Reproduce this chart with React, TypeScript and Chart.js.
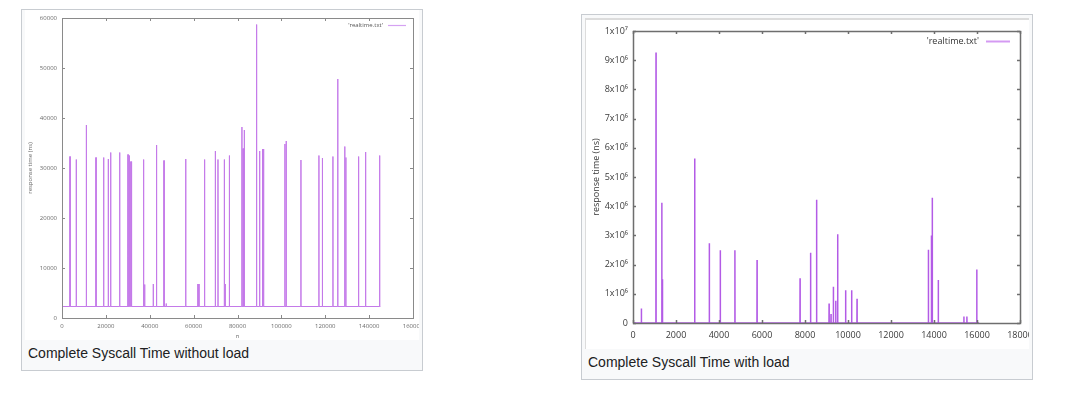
import { useEffect, useRef } from "react";
import { Chart, registerables } from "chart.js";

Chart.register(...registerables);

// ---------- Left chart: "Complete Syscall Time without load" ----------
const leftSpikeN = [
  3650, 6500, 11100, 15500, 19000, 21100, 22200, 26300, 30100, 30700, 31300, 31700,
  37200, 37700, 41600, 43100, 46500, 47500, 56400, 62000, 62500, 65000, 69900, 71100,
  74000, 74400, 76300, 82000, 82500, 82800, 83100, 88700, 90100, 91400, 91800, 92000,
  101600, 102200, 108900, 117100, 118700, 123500, 125700, 128900, 129400, 135200, 138400, 144800,
];
const leftSpikeValue = [
  32300, 31700, 38600, 32100, 32100, 31800, 33100, 33100, 32700, 32500, 31300, 31300,
  31700, 6700, 6800, 34600, 31500, 2900, 31800, 6800, 6800, 31700, 33400, 31700,
  31700, 6800, 32500, 38200, 33900, 33900, 37600, 58700, 33400, 33800, 33800, 2700,
  34800, 35400, 31600, 32500, 32000, 32300, 47800, 34300, 32100, 32300, 33200, 32500,
];
const leftBaseline = 2300;
const leftLastN = 145100;
const leftXTicks = [0, 20000, 40000, 60000, 80000, 100000, 120000, 140000, 160000];
const leftYTicks = [0, 10000, 20000, 30000, 40000, 50000, 60000];

// ---------- Right chart: "Complete Syscall Time with load" ----------
const rightSpikeN = [
  390, 1070, 1340, 1370, 2870, 3550, 4060, 4740, 5770, 7770, 8260, 8540, 9120, 9210,
  9320, 9430, 9520, 9890, 10170, 10420, 13740, 13880, 13920, 14200, 15390, 15530, 15990,
];
const rightSpikeValue = [
  500000, 9260000, 4120000, 1500000, 5630000, 2730000, 2490000, 2490000, 2160000,
  1530000, 2410000, 4220000, 670000, 310000, 1240000, 760000, 3040000, 1120000,
  1120000, 830000, 2510000, 3000000, 4290000, 1470000, 220000, 220000, 1830000,
];
const rightBaseline = 0;
const rightLastN = 16100;
const rightXTicks = [0, 2000, 4000, 6000, 8000, 10000, 12000, 14000, 16000, 18000];
const rightYTicks = [0, 1e6, 2e6, 3e6, 4e6, 5e6, 6e6, 7e6, 8e6, 9e6, 1e7];
const rightYTickLabels = ["0", "1x10⁶", "2x10⁶", "3x10⁶", "4x10⁶", "5x10⁶", "6x10⁶", "7x10⁶", "8x10⁶", "9x10⁶", "1x10⁷"];

const seriesLabel = "'realtime.txt'";
const xTitle = "n";
const yTitle = "response time (ns)";
const leftCaption = "Complete Syscall Time without load";
const rightCaption = "Complete Syscall Time with load";

function spikesToPoints(ns: number[], vals: number[], base: number, lastN: number, d: number) {
  const pts: { x: number; y: number }[] = [{ x: 0, y: base }];
  ns.forEach((n, i) => {
    pts.push({ x: n - d, y: base });
    pts.push({ x: n, y: vals[i] });
    pts.push({ x: n + d, y: base });
  });
  pts.push({ x: lastN, y: base });
  return pts;
}

const gnuplotFrame = {
  id: "gnuplotFrame",
  afterDatasetsDraw(chart: any, _args: any, opts: any) {
    const { ctx, chartArea: a, scales } = chart;
    ctx.save();
    ctx.strokeStyle = opts.color;
    ctx.lineWidth = opts.width;
    ctx.strokeRect(Math.round(a.left) + 0.5, Math.round(a.top) + 0.5, Math.round(a.right - a.left), Math.round(a.bottom - a.top));
    const L = opts.tickLen;
    const line = (x1: number, y1: number, x2: number, y2: number) => {
      ctx.beginPath();
      ctx.moveTo(x1, y1);
      ctx.lineTo(x2, y2);
      ctx.stroke();
    };
    scales.x.ticks.forEach((t: any) => {
      const px = Math.round(scales.x.getPixelForValue(t.value)) + 0.5;
      line(px, a.bottom, px, a.bottom - L);
      line(px, a.top, px, a.top + L);
    });
    scales.y.ticks.forEach((t: any) => {
      const py = Math.round(scales.y.getPixelForValue(t.value)) + 0.5;
      line(a.left, py, a.left + L, py);
      line(a.right, py, a.right - L, py);
    });
    // gnuplot style key: text then line sample
    const ds = chart.data.datasets[0];
    ctx.font = opts.keyFont;
    ctx.fillStyle = opts.keyColor;
    ctx.textAlign = "right";
    ctx.textBaseline = "middle";
    const ky = Math.round(a.top + opts.keyDy) + 0.5;
    ctx.fillText(ds.label, a.right - opts.keyTextRight, ky);
    ctx.strokeStyle = opts.keyLineColor;
    ctx.lineWidth = opts.keyLineWidth;
    line(a.right - opts.keyLineFrom, ky, a.right - opts.keyLineTo, ky);
    ctx.restore();
  },
};

function zeroPad(s: any) {
  s.paddingLeft = 0;
  s.paddingRight = 0;
  s.paddingTop = 0;
  s.paddingBottom = 0;
}

function makeConfig(p: any) {
  const font = { family: "'Open Sans', 'DejaVu Sans', sans-serif", size: p.fontSize };
  return {
    type: "line",
    data: {
      datasets: [
        {
          label: seriesLabel,
          data: p.points,
          borderColor: p.lineColor,
          borderWidth: p.lineWidth,
          pointRadius: 0,
          tension: 0,
          fill: false,
        },
      ],
    },
    options: {
      animation: false,
      responsive: false,
      maintainAspectRatio: false,
      devicePixelRatio: 1,
      events: [],
      layout: { padding: p.padding, autoPadding: false },
      plugins: {
        legend: { display: false },
        tooltip: { enabled: false },
        gnuplotFrame: p.frame,
      },
      scales: {
        x: {
          type: "linear",
          min: p.xTicks[0],
          max: p.xTicks[p.xTicks.length - 1],
          afterFit: (s: any) => { s.height = p.xAxisHeight; zeroPad(s); },
          afterBuildTicks: (s: any) => { s.ticks = p.xTicks.map((v: number) => ({ value: v })); },
          grid: { display: false, drawTicks: false },
          border: { display: false },
          ticks: { padding: p.xTickPad, font, color: p.tickColor, maxRotation: 0, autoSkip: false, callback: (v: any) => String(v) },
          title: { display: true, text: xTitle, font, color: p.tickColor, padding: p.xTitlePad },
        },
        y: {
          type: "linear",
          min: p.yTicks[0],
          max: p.yTicks[p.yTicks.length - 1],
          afterFit: (s: any) => { s.width = p.yAxisWidth; zeroPad(s); },
          afterBuildTicks: (s: any) => { s.ticks = p.yTicks.map((v: number) => ({ value: v })); },
          grid: { display: false, drawTicks: false },
          border: { display: false },
          ticks: { padding: p.yTickPad, font, color: p.tickColor, autoSkip: false, callback: p.yLabel },
          title: { display: true, text: yTitle, font, color: p.tickColor, padding: p.yTitlePad },
        },
      },
    },
    plugins: [gnuplotFrame],
  };
}

export default function App() {
  const leftRef = useRef<HTMLCanvasElement | null>(null);
  const rightRef = useRef<HTMLCanvasElement | null>(null);

  useEffect(() => {
    const left = new Chart(leftRef.current as any, makeConfig({
      points: spikesToPoints(leftSpikeN, leftSpikeValue, leftBaseline, leftLastN, 40),
      lineColor: "#c47ae9",
      lineWidth: 1,
      fontSize: 6,
      tickColor: "#6a6a6a",
      padding: { left: 0, right: 6, top: 8, bottom: 0 },
      xAxisHeight: 22,
      yAxisWidth: 37,
      xTicks: leftXTicks,
      yTicks: leftYTicks,
      xTickPad: 5,
      yTickPad: 5,
      xTitlePad: { top: 0, bottom: 0 },
      yTitlePad: { top: 2, bottom: 0 },
      yLabel: (v: any) => String(v),
      frame: {
        color: "#8a8a8a", width: 1, tickLen: 3,
        keyFont: "6px 'Open Sans', 'DejaVu Sans', sans-serif", keyColor: "#555",
        keyDy: 7, keyTextRight: 30, keyLineFrom: 25, keyLineTo: 7,
        keyLineColor: "#d5a2f2", keyLineWidth: 1.2,
      },
    }) as any);
    const right = new Chart(rightRef.current as any, makeConfig({
      points: spikesToPoints(rightSpikeN, rightSpikeValue, rightBaseline, rightLastN, 5),
      lineColor: "#b35be6",
      lineWidth: 1.5,
      fontSize: 9,
      tickColor: "#3a3a3a",
      padding: { left: 0, right: 9, top: 11, bottom: 0 },
      xAxisHeight: 42,
      yAxisWidth: 47,
      xTicks: rightXTicks,
      yTicks: rightYTicks,
      xTickPad: 7,
      yTickPad: 5,
      xTitlePad: { top: 0, bottom: 7 },
      yTitlePad: { top: 5, bottom: 0 },
      yLabel: (_v: any, i: number) => rightYTickLabels[i],
      frame: {
        color: "#6e6e6e", width: 1.5, tickLen: 3,
        keyFont: "9px 'Open Sans', 'DejaVu Sans', sans-serif", keyColor: "#333",
        keyDy: 10, keyTextRight: 41, keyLineFrom: 34, keyLineTo: 10,
        keyLineColor: "#d49af2", keyLineWidth: 2,
      },
    }) as any);
    return () => {
      left.destroy();
      right.destroy();
    };
  }, []);

  const captionStyle: any = {
    position: "absolute",
    fontFamily: "'Liberation Sans', Arial, sans-serif",
    fontSize: 14,
    color: "#202122",
    whiteSpace: "nowrap",
    lineHeight: "16px",
  };

  return (
    <div style={{ position: "absolute", left: 0, top: 0, width: 1066, height: 397, background: "#fff", overflow: "hidden" }}>
      {/* left figure */}
      <div style={{ position: "absolute", left: 21, top: 9, width: 402, height: 362, boxSizing: "border-box", border: "1px solid #c8ccd1", background: "#f8f9fa" }} />
      <div style={{ position: "absolute", left: 25, top: 10, width: 394, height: 330, overflow: "hidden", background: "#fff" }}>
        <canvas ref={leftRef} width={394} height={330} style={{ display: "block" }} />
      </div>
      <div style={{ ...captionStyle, left: 28, top: 345 }}>{leftCaption}</div>

      {/* right figure */}
      <div style={{ position: "absolute", left: 581, top: 14, width: 452, height: 366, boxSizing: "border-box", border: "1px solid #c8ccd1", background: "#f8f9fa" }} />
      <div style={{ position: "absolute", left: 585, top: 18, width: 444, height: 331, boxSizing: "border-box", borderTop: "2px solid #dcdcdc", borderLeft: "1px solid #dcdcdc", overflow: "hidden", background: "#fff" }}>
        <canvas ref={rightRef} width={443} height={345} style={{ display: "block" }} />
      </div>
      <div style={{ ...captionStyle, left: 588, top: 354 }}>{rightCaption}</div>
    </div>
  );
}
